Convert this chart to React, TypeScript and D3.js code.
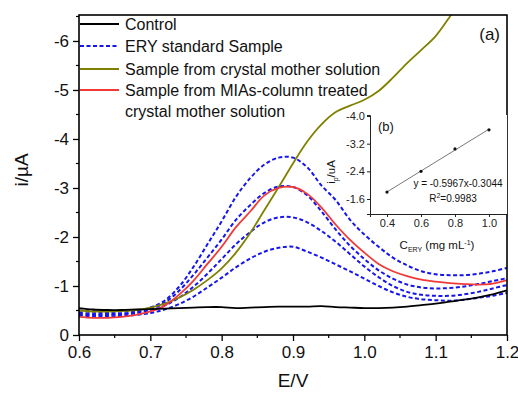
import * as d3 from "d3";
import { useEffect, useRef } from "react";

// potential grid (V)
const potential = [
  0.6, 0.62, 0.64, 0.66, 0.68, 0.7, 0.72, 0.74, 0.76, 0.78, 0.8, 0.82, 0.84, 0.86, 0.88, 0.9,
  0.92, 0.94, 0.96, 0.98, 1.0, 1.02, 1.04, 1.06, 1.08, 1.1, 1.12, 1.14, 1.16, 1.18, 1.2,
];

// currents (µA)
const control = [
  -0.55, -0.52, -0.51, -0.51, -0.52, -0.53, -0.54, -0.55, -0.56, -0.57, -0.57, -0.55, -0.56, -0.57, -0.58, -0.58,
  -0.58, -0.59, -0.57, -0.56, -0.55, -0.55, -0.56, -0.58, -0.61, -0.64, -0.68, -0.72, -0.77, -0.83, -0.91,
];
const crystalMother = [
  -0.5, -0.48, -0.48, -0.49, -0.51, -0.56, -0.64, -0.76, -0.92, -1.12, -1.36, -1.68, -2.08, -2.55, -3.02, -3.5,
  -3.95, -4.3, -4.55, -4.68, -4.8, -4.98, -5.25, -5.55, -5.82, -6.1, -6.5, -6.95,
];
const miasTreated = [
  -0.37, -0.35, -0.35, -0.37, -0.41, -0.48, -0.6, -0.82, -1.1, -1.45, -1.8, -2.2, -2.52, -2.85, -3.0, -3.02,
  -2.88, -2.6, -2.25, -1.94, -1.68, -1.45, -1.3, -1.2, -1.13, -1.09, -1.06, -1.04, -1.03, -1.05, -1.12,
];
const eryStd1 = [
  -0.4, -0.38, -0.38, -0.39, -0.41, -0.45, -0.52, -0.63, -0.78, -0.97, -1.17, -1.38, -1.56, -1.7, -1.78, -1.8,
  -1.7, -1.58, -1.44, -1.3, -1.15, -1.0, -0.87, -0.78, -0.73, -0.71, -0.7, -0.72, -0.76, -0.8, -0.86,
];
const eryStd2 = [
  -0.42, -0.41, -0.41, -0.42, -0.45, -0.5, -0.6, -0.76, -0.98, -1.25, -1.55, -1.85, -2.1, -2.3, -2.4, -2.4,
  -2.3, -2.12, -1.9, -1.65, -1.4, -1.18, -1.0, -0.88, -0.82, -0.8, -0.8, -0.83, -0.88, -0.95, -1.02,
];
const eryStd3 = [
  -0.45, -0.44, -0.43, -0.44, -0.47, -0.53, -0.66, -0.9, -1.22, -1.58, -1.95, -2.35, -2.65, -2.9, -3.03, -3.02,
  -2.85, -2.52, -2.15, -1.82, -1.55, -1.32, -1.15, -1.03, -0.97, -0.95, -0.96, -0.99, -1.04, -1.1, -1.16,
];
const eryStd4 = [
  -0.5, -0.48, -0.47, -0.48, -0.5, -0.56, -0.7, -0.98, -1.38, -1.85, -2.32, -2.82, -3.2, -3.48, -3.62, -3.62,
  -3.42, -3.05, -2.75, -2.35, -2.05, -1.8, -1.58, -1.42, -1.3, -1.24, -1.22, -1.22, -1.25, -1.3, -1.37,
];

const yTicks = [0, -1, -2, -3, -4, -5, -6];
const xTicks = [0.6, 0.7, 0.8, 0.9, 1.0, 1.1, 1.2];

// inset (b): peak current vs concentration
const insetConc = [0.4, 0.6, 0.8, 1.0];
const insetPeak = [-1.8, -2.4, -3.05, -3.6];
const insetYTicks = [-4.0, -3.2, -2.4, -1.6];
const insetXTicks = [0.4, 0.6, 0.8, 1.0];

const legendItems = [
  { label: "Control", color: "#000000", dash: null },
  { label: "ERY standard Sample", color: "#1515ee", dash: "4,2.5" },
  { label: "Sample from crystal mother solution", color: "#808000", dash: null },
  { label: "Sample from MIAs-column treated", color: "#f03a3a", dash: null },
];

const FONT = "Arial, 'Liberation Sans', sans-serif";

const App = () => {
  const ref = useRef(null);

  useEffect(() => {
    const svg = d3.select(ref.current);
    svg.selectAll("*").remove();

    const margin = { top: 15, right: 11, bottom: 58, left: 79 };
    const W = 518, H = 393;
    const x = d3.scaleLinear().domain([0.6, 1.2]).range([margin.left, W - margin.right]);
    const y = d3.scaleLinear().domain([0, -6.53]).range([H - margin.bottom, margin.top]);

    svg.append("rect").attr("width", W).attr("height", H).attr("fill", "#fff");

    svg.append("clipPath").attr("id", "plotclip")
      .append("rect")
      .attr("x", margin.left).attr("y", margin.top)
      .attr("width", W - margin.left - margin.right)
      .attr("height", H - margin.top - margin.bottom);

    // axes
    const yAxis = svg.append("g")
      .attr("transform", `translate(${margin.left},0)`)
      .call(d3.axisLeft(y).tickValues(yTicks).tickSize(6).tickPadding(4).tickFormat((d) => String(d)));
    const xAxis = svg.append("g")
      .attr("transform", `translate(0,${H - margin.bottom})`)
      .call(d3.axisBottom(x).tickValues(xTicks).tickSize(6).tickPadding(5).tickFormat(d3.format(".1f")));
    [yAxis, xAxis].forEach((g) => {
      g.select(".domain").remove();
      g.selectAll("line").attr("stroke", "#000").attr("stroke-width", 1.3);
      g.selectAll("text").attr("font-family", FONT).attr("font-size", 17).attr("fill", "#111");
    });

    // minor ticks
    svg.append("g").selectAll("line")
      .data(d3.range(-0.5, -6.6, -1))
      .join("line")
      .attr("x1", margin.left - 3).attr("x2", margin.left)
      .attr("y1", (d) => y(d)).attr("y2", (d) => y(d))
      .attr("stroke", "#000").attr("stroke-width", 1.2);
    svg.append("g").selectAll("line")
      .data(d3.range(0.65, 1.2, 0.1))
      .join("line")
      .attr("x1", (d) => x(d)).attr("x2", (d) => x(d))
      .attr("y1", H - margin.bottom).attr("y2", H - margin.bottom + 3)
      .attr("stroke", "#000").attr("stroke-width", 1.2);

    // curves
    const line = d3.line()
      .x((d) => x(d[0]))
      .y((d) => y(d[1]))
      .curve(d3.curveCatmullRom);
    const pts = (vals) => vals.map((v, i) => [potential[i], v]);

    const plot = svg.append("g").attr("clip-path", "url(#plotclip)");
    [eryStd1, eryStd2, eryStd3, eryStd4].forEach((s) => {
      plot.append("path").attr("d", line(pts(s)))
        .attr("fill", "none").attr("stroke", legendItems[1].color)
        .attr("stroke-width", 2).attr("stroke-dasharray", legendItems[1].dash);
    });
    plot.append("path").attr("d", line(pts(crystalMother)))
      .attr("fill", "none").attr("stroke", legendItems[2].color).attr("stroke-width", 1.8);
    plot.append("path").attr("d", line(pts(miasTreated)))
      .attr("fill", "none").attr("stroke", legendItems[3].color).attr("stroke-width", 1.8);
    plot.append("path").attr("d", line(pts(control)))
      .attr("fill", "none").attr("stroke", legendItems[0].color).attr("stroke-width", 1.8);

    // frame
    svg.append("rect")
      .attr("x", margin.left).attr("y", margin.top)
      .attr("width", W - margin.left - margin.right)
      .attr("height", H - margin.top - margin.bottom)
      .attr("fill", "none").attr("stroke", "#000").attr("stroke-width", 1.6);

    // axis titles
    svg.append("text")
      .attr("transform", `translate(28,170) rotate(-90)`)
      .attr("text-anchor", "middle")
      .attr("font-family", FONT).attr("font-size", 19).attr("fill", "#111")
      .text("i/µA");
    svg.append("text")
      .attr("x", x(0.9)).attr("y", 387)
      .attr("text-anchor", "middle")
      .attr("font-family", FONT).attr("font-size", 19).attr("fill", "#111")
      .text("E/V");

    // legend
    const lg = svg.append("g");
    const rows = [24, 46, 69, 90];
    legendItems.forEach((it, i) => {
      lg.append("line")
        .attr("x1", 80).attr("x2", 119).attr("y1", rows[i]).attr("y2", rows[i])
        .attr("stroke", it.color).attr("stroke-width", it.dash ? 2 : 1.8)
        .attr("stroke-dasharray", it.dash);
      lg.append("text")
        .attr("x", 125).attr("y", rows[i] + 5.5)
        .attr("font-family", FONT).attr("font-size", 16).attr("fill", "#111")
        .text(it.label);
    });
    lg.append("text")
      .attr("x", 125).attr("y", 116.5)
      .attr("font-family", FONT).attr("font-size", 16).attr("fill", "#111")
      .text("crystal mother solution");

    svg.append("text")
      .attr("x", 500).attr("y", 40).attr("text-anchor", "end")
      .attr("font-family", FONT).attr("font-size", 17).attr("fill", "#111")
      .text("(a)");

    // inset (b)
    const ix = d3.scaleLinear().domain([0.3, 1.106]).range([370, 507]);
    const iy = d3.scaleLinear().domain([-1.166, -4.03]).range([214, 115]);
    const inset = svg.append("g");
    inset.append("rect").attr("x", 370).attr("y", 115).attr("width", 137).attr("height", 99).attr("fill", "#fff");
    const iyAxis = inset.append("g").attr("transform", "translate(370,0)")
      .call(d3.axisLeft(iy).tickValues(insetYTicks).tickSize(3).tickPadding(2).tickFormat(d3.format(".1f")));
    const ixAxis = inset.append("g").attr("transform", "translate(0,214)")
      .call(d3.axisBottom(ix).tickValues(insetXTicks).tickSize(3).tickPadding(2).tickFormat(d3.format(".1f")));
    [iyAxis, ixAxis].forEach((g) => {
      g.select(".domain").attr("stroke", "#222").attr("stroke-width", 1);
      g.selectAll("line").attr("stroke", "#222");
      g.selectAll("text").attr("font-family", FONT).attr("font-size", 11).attr("fill", "#222");
    });
    iyAxis.selectAll("text").text((d) => d.toFixed(1));

    // least squares fit through the points
    const mx = d3.mean(insetConc), my = d3.mean(insetPeak);
    const slope = d3.sum(insetConc, (c, i) => (c - mx) * (insetPeak[i] - my)) /
      d3.sum(insetConc, (c) => (c - mx) ** 2);
    const icpt = my - slope * mx;
    const x0 = insetConc[0], x1 = insetConc[insetConc.length - 1];
    inset.append("line")
      .attr("x1", ix(x0)).attr("y1", iy(slope * x0 + icpt))
      .attr("x2", ix(x1)).attr("y2", iy(slope * x1 + icpt))
      .attr("stroke", "#555").attr("stroke-width", 0.8);
    inset.selectAll("circle")
      .data(insetConc)
      .join("circle")
      .attr("cx", (d) => ix(d)).attr("cy", (d, i) => iy(insetPeak[i]))
      .attr("r", 1.6).attr("fill", "#111");

    inset.append("text").attr("x", 378).attr("y", 131)
      .attr("font-family", FONT).attr("font-size", 13).attr("fill", "#111").text("(b)");
    inset.append("text").attr("x", 458).attr("y", 187).attr("text-anchor", "middle")
      .attr("font-family", FONT).attr("font-size", 10).attr("fill", "#111")
      .text("y = -0.5967x-0.3044");
    const r2 = inset.append("text").attr("x", 453).attr("y", 202).attr("text-anchor", "middle")
      .attr("font-family", FONT).attr("font-size", 10).attr("fill", "#111");
    r2.append("tspan").text("R");
    r2.append("tspan").attr("dy", -4).attr("font-size", 7).text("2");
    r2.append("tspan").attr("dy", 4).text("=0.9983");

    const cx = inset.append("text").attr("x", 437).attr("y", 249).attr("text-anchor", "middle")
      .attr("font-family", FONT).attr("font-size", 11.5).attr("fill", "#111");
    cx.append("tspan").text("C");
    cx.append("tspan").attr("dy", 3).attr("font-size", 7).text("ERY");
    cx.append("tspan").attr("dy", -3).text(" (mg mL");
    cx.append("tspan").attr("dy", -4).attr("font-size", 7).text("-1");
    cx.append("tspan").attr("dy", 4).text(")");

    const iyl = inset.append("text").attr("transform", "translate(335,172) rotate(-90)")
      .attr("text-anchor", "middle")
      .attr("font-family", FONT).attr("font-size", 11.5).attr("fill", "#111");
    iyl.append("tspan").text("i");
    iyl.append("tspan").attr("dy", 3).attr("font-size", 7).text("p");
    iyl.append("tspan").attr("dy", -3).text("/uA");
  }, []);

  return (
    <svg
      ref={ref}
      width={518}
      height={393}
      style={{ position: "absolute", left: 0, top: 0 }}
    />
  );
};

export default App;
